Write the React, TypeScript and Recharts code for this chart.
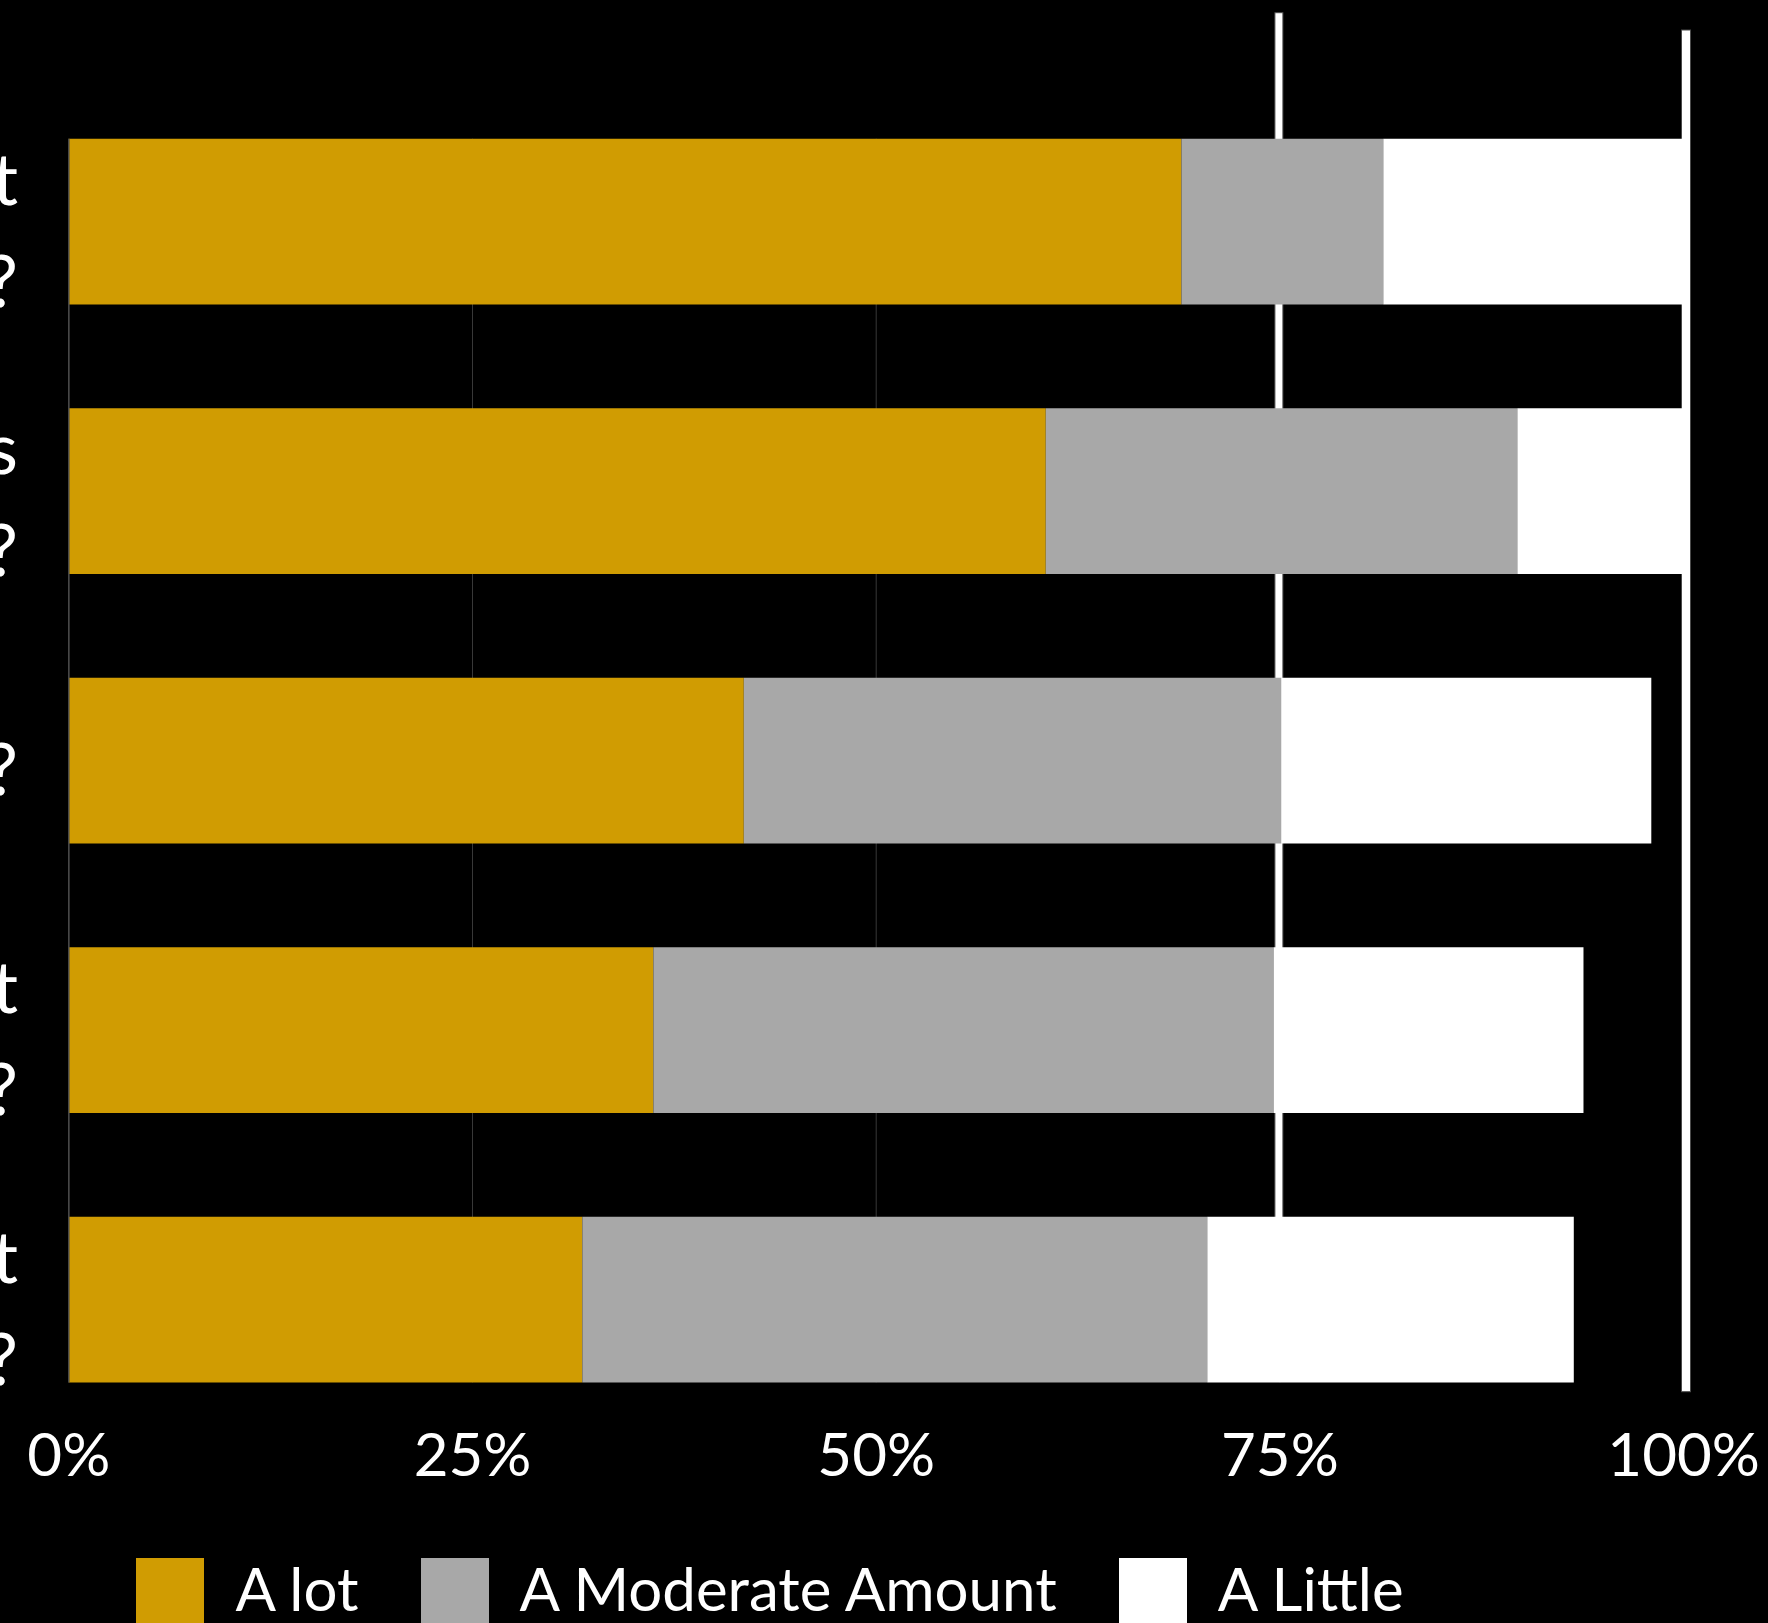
import { Bar, BarChart, CartesianGrid, XAxis, YAxis } from "recharts";

// survey questions (one entry per bar row, "|" splits the label lines)
const questions = [
  "How much do you trust|what you read about it?",
  "How much do you know about its|effects on others?",
  "How much do you care about it?",
  "How much attention do you pay to it|in your daily life?",
  "How much do you talk about it|with friends and family?",
];
const aLot = [68.9, 60.5, 41.8, 36.2, 31.8];
const moderate = [12.5, 29.2, 33.3, 38.4, 38.7];
const little = [18.6, 10.3, 22.9, 19.2, 22.7];
const xTicks = [0, 25, 50, 75, 100];
const markerValues = [75, 100];

const series = [
  { key: "lot", name: "A lot", color: "#D09C02" },
  { key: "moderate", name: "A Moderate Amount", color: "#A8A8A8" },
  { key: "little", name: "A Little", color: "#FFFFFF" },
];

const font = "Lato, 'Open Sans', sans-serif";

const data = questions.map((q, i) => ({
  name: q,
  lot: aLot[i],
  moderate: moderate[i],
  little: little[i],
}));

function QuestionTick({ x, y, payload }: { x?: number; y?: number; payload?: { value: string } }) {
  const lines = String(payload?.value ?? "").split("|");
  const lh = 102;
  const first = 34 - ((lines.length - 1) / 2) * lh;
  return (
    <text x={x} y={y} textAnchor="end" fill="#fff" fontSize={72} fontFamily={font}>
      {lines.map((l, i) => (
        <tspan key={i} x={x} dy={i === 0 ? first : lh}>
          {l}
        </tspan>
      ))}
    </text>
  );
}

// thick white marker line with a thin grey outline, stretched past the plot area
function MarkerLine(props: any) {
  const { x1, y1, y2, index } = props;
  if (x1 == null || y1 == null || y2 == null) return <g />;
  const top = index === 0 ? 126 : 108.7;
  const bottom = index === 0 ? -2 : 9.3;
  const w = index === 0 ? 8 : 9;
  const dx = index === 0 ? -1 : 2.4;
  return (
    <rect
      x={x1 + dx - w / 2}
      y={y1 - top}
      width={w}
      height={y2 - y1 + top + bottom}
      fill="#fff"
      stroke="#4a4a4a"
      strokeWidth={1}
    />
  );
}

export default function App() {
  return (
    <div
      style={{
        position: "absolute",
        left: 0,
        top: 0,
        width: 1768,
        height: 1623,
        background: "#000",
        overflow: "hidden",
        fontFamily: font,
      }}
    >
      <BarChart
        width={1768}
        height={1623}
        data={data}
        layout="vertical"
        margin={{ top: 138.7, right: 84.4, bottom: 0, left: 0 }}
      >
        <CartesianGrid horizontal={false} stroke="#383838" strokeWidth={1} />
        <CartesianGrid
          horizontal={false}
          verticalValues={markerValues}
          vertical={(p: any) => <MarkerLine key={p.key ?? `m-${p.index}`} {...p} />}
        />
        <XAxis
          type="number"
          domain={[0, 100]}
          ticks={xTicks}
          tickFormatter={(v: number) => `${v}%`}
          axisLine={false}
          tickLine={false}
          tickSize={0}
          tickMargin={51}
          height={240.6}
          tick={{ fill: "#fff", fontSize: 60, fontFamily: font }}
          interval={0}
        />
        <YAxis
          type="category"
          dataKey="name"
          width={68.8}
          padding={{ top: -51.9, bottom: -51.9 }}
          axisLine={{ stroke: "#4a4a4a", strokeWidth: 1.5 }}
          tickLine={false}
          tickSize={0}
          tickMargin={50.8}
          tick={<QuestionTick />}
          interval={0}
        />
        {series.map((s) => (
          <Bar
            key={s.key}
            dataKey={s.key}
            name={s.name}
            stackId="a"
            fill={s.color}
            barSize={165.8}
            isAnimationActive={false}
          />
        ))}
      </BarChart>
      <div
        style={{
          position: "absolute",
          left: 136.4,
          top: 1558,
          display: "flex",
          alignItems: "flex-start",
          color: "#fff",
          fontSize: 60,
          lineHeight: "68px",
          whiteSpace: "nowrap",
        }}
      >
        {series.map((s) => (
          <div key={s.key} style={{ display: "flex", alignItems: "flex-start", marginRight: 62 }}>
            <div style={{ width: 68, height: 68, background: s.color }} />
            <span style={{ marginLeft: 31, marginTop: -4 }}>{s.name}</span>
          </div>
        ))}
      </div>
    </div>
  );
}
